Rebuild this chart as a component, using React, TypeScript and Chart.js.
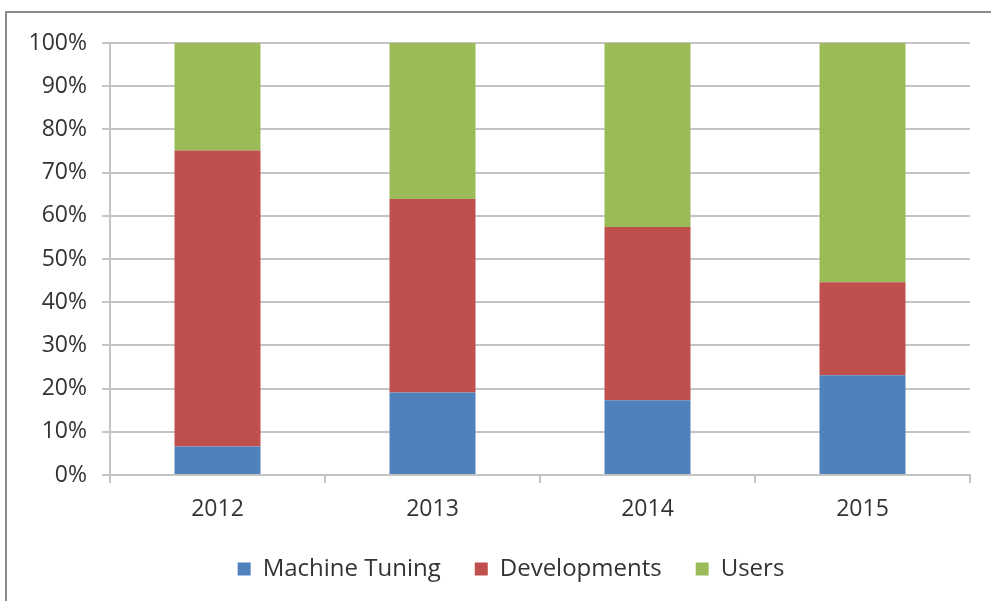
import React, { useEffect, useRef } from "react";
import { Chart, registerables } from "chart.js";

Chart.register(...registerables);

const categories = ["2012", "2013", "2014", "2015"];
const machineTuning = [6.6, 19.1, 17.3, 23.1];
const developments = [68.5, 44.8, 40.1, 21.5];
const users = [24.9, 36.1, 42.6, 55.4];

const FONT = "'Open Sans', 'Noto Sans', sans-serif";
const TEXT = "#333333";
const GRID = "#c4c4c4";

export default function App() {
  const ref = useRef<HTMLCanvasElement | null>(null);

  useEffect(() => {
    if (!ref.current) return;
    const chart = new Chart(ref.current, {
      type: "bar",
      data: {
        labels: categories,
        datasets: [
          { label: "Machine Tuning", data: machineTuning, backgroundColor: "#4F81BD", borderWidth: 0 },
          { label: "Developments", data: developments, backgroundColor: "#C0504D", borderWidth: 0 },
          { label: "Users", data: users, backgroundColor: "#9BBB59", borderWidth: 0 },
        ],
      },
      options: {
        responsive: false,
        animation: false,
        devicePixelRatio: 1,
        layout: { padding: { top: 43, left: 0, right: 0, bottom: 10 } },
        datasets: { bar: { categoryPercentage: 1, barPercentage: 0.4 } },
        plugins: {
          tooltip: { enabled: false },
          legend: {
            position: "bottom",
            labels: {
              boxWidth: 13,
              boxHeight: 13,
              padding: 34,
              color: TEXT,
              font: { family: FONT, size: 24 },
            },
          },
        },
        scales: {
          x: {
            stacked: true,
            grid: {
              offset: true,
              drawOnChartArea: false,
              drawTicks: true,
              tickLength: 8,
              color: GRID,
              lineWidth: 2,
            },
            border: { display: true, color: GRID, width: 2 },
            ticks: { color: TEXT, font: { family: FONT, size: 23 }, padding: 13 },
            afterFit: (s: any) => {
              s.height = 48;
            },
          },
          y: {
            stacked: true,
            min: 0,
            max: 100,
            grid: { color: GRID, lineWidth: 2, tickLength: 8 },
            border: { display: true, color: GRID, width: 2 },
            ticks: {
              stepSize: 10,
              color: TEXT,
              font: { family: FONT, size: 23 },
              padding: 15,
              callback: (v: any) => v + "%",
            },
            afterFit: (s: any) => {
              s.width = 110;
            },
          },
          y2: {
            type: "linear",
            position: "right",
            display: true,
            grid: { display: false },
            border: { display: false },
            ticks: { display: false },
            afterFit: (s: any) => {
              s.width = 52;
            },
          },
        },
      },
    });
    return () => chart.destroy();
  }, []);

  return (
    <div
      style={{
        position: "fixed",
        left: 0,
        top: 0,
        width: 991,
        height: 601,
        overflow: "hidden",
        background: "#ffffff",
      }}
    >
      <div
        style={{
          position: "absolute",
          left: 5,
          top: 11,
          width: 1100,
          height: 700,
          borderLeft: "2px solid #8a8a8a",
          borderTop: "2px solid #8a8a8a",
        }}
      />
      <canvas
        ref={ref}
        width={1022}
        height={601}
        style={{ position: "absolute", left: 0, top: 0, width: 1022, height: 601 }}
      />
    </div>
  );
}
